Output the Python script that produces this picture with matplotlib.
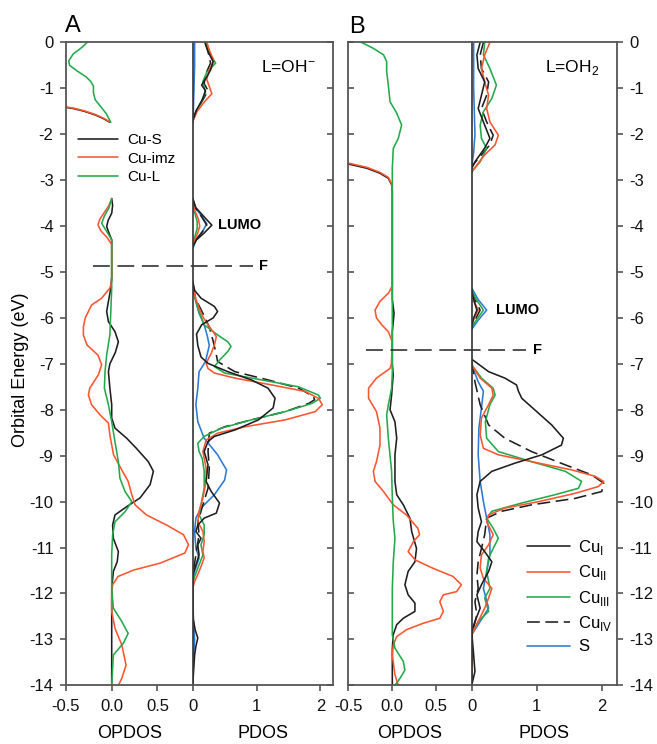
import numpy as np
import matplotlib
matplotlib.use('Agg')
import matplotlib.pyplot as plt

plt.rcParams['font.family'] = ['Liberation Sans', 'DejaVu Sans']
plt.rcParams['axes.unicode_minus'] = False
plt.rcParams['mathtext.fontset'] = 'custom'
plt.rcParams['mathtext.rm'] = 'Liberation Sans'

nan = np.nan

# ---------------- Panel A : OPDOS (Cu-S, Cu-imz, Cu-L) ----------------
A_opdos_CuS_E = [-1.41, -1.44, -1.50, -1.58, -1.66, -1.74, nan,
                 -3.40, -3.55, -3.72, -3.88, -4.01, -4.15, -4.30, -4.5, -4.8, -5.1, -5.35,
                 -5.64, -5.86, -6.08, -6.30, -6.52, -6.75, -7.0, -7.17, -7.53, -7.89, -8.18,
                 -8.4, -8.62, -8.84, -9.13, -9.34, -9.63, -9.92, -10.11, -10.29, -10.51,
                 -10.8, -11.09, -11.31, -11.52, -11.89, -12.6, -14.0]
A_opdos_CuS_x = [-0.52, -0.42, -0.30, -0.18, -0.09, -0.02, nan,
                 0.0, 0.01, 0.0, -0.04, -0.055, -0.03, 0.0, 0.0, 0.0, 0.0, -0.01,
                 -0.036, -0.055, -0.036, 0.036, 0.073, 0.04, -0.02, -0.036, -0.02, 0.0, 0.0,
                 0.036, 0.164, 0.27, 0.40, 0.456, 0.42, 0.31, 0.164, 0.036, 0.01,
                 0.018, 0.073, 0.06, 0.018, 0.0, 0.0, 0.0]

A_opdos_Cuimz_E = [-1.40, -1.43, -1.49, -1.57, -1.65, -1.73, nan,
                   -3.40, -3.55, -3.70, -3.85, -3.97, -4.10, -4.25, -4.40, -4.8, -5.2, -5.35,
                   -5.57, -5.72, -6.0, -6.2, -6.37, -6.59, -6.81, -7.02, -7.24, -7.53, -7.68,
                   -7.89, -8.11, -8.29, -8.55, -8.98, -9.31, -9.56, -9.85, -10.07, -10.29,
                   -10.51, -10.72, -10.94, -11.12, -11.34, -11.49, -11.63, -11.81, -12.03,
                   -12.39, -12.76, -13.12, -13.56, -13.85, -14.0]
A_opdos_Cuimz_x = [-0.52, -0.42, -0.30, -0.18, -0.09, -0.02, nan,
                   0.0, -0.03, -0.08, -0.13, -0.15, -0.12, -0.05, 0.0, 0.0, 0.0, -0.02,
                   -0.11, -0.22, -0.29, -0.31, -0.31, -0.27, -0.15, -0.11, -0.146, -0.24, -0.255,
                   -0.22, -0.128, -0.036, -0.02, 0.02, 0.11, 0.18, 0.22, 0.255, 0.38,
                   0.6, 0.785, 0.84, 0.80, 0.53, 0.24, 0.07, 0.01, 0.0,
                   0.0, 0.036, 0.11, 0.157, 0.11, 0.073]

A_opdos_CuL_E = [0.0, -0.1, -0.25, -0.4, -0.5, -0.62, -0.75, -0.85, -0.95, -1.1, -1.25,
                 -1.4, -1.55, -1.74, nan,
                 -3.40, -3.6, -3.78, -3.94, -4.1, -4.3, -4.5, -5.35, -6.37, -6.81, -7.17,
                 -7.53, -7.89, -8.26, -8.7, -9.13, -9.49, -9.78, -10.0, -10.22, -10.44,
                 -10.72, -11.16, -11.89, -12.32, -12.61, -12.87, -13.08, -13.34, -14.0]
A_opdos_CuL_x = [-0.27, -0.32, -0.42, -0.47, -0.46, -0.38, -0.28, -0.23, -0.2, -0.2, -0.18,
                 -0.12, -0.06, -0.01, nan,
                 0.0, -0.03, -0.08, -0.11, -0.06, 0.0, 0.0, 0.0, -0.02, -0.055, -0.073,
                 -0.08, -0.036, 0.0, 0.036, 0.073, 0.09, 0.146, 0.22, 0.146, 0.036,
                 0.01, 0.0, 0.0, 0.018, 0.11, 0.18, 0.128, 0.018, 0.0]

# ---------------- Panel A : PDOS (CuI..CuIV, S) ----------------
A_pdos_Cu1_E = [0, -0.2, -0.42, -0.6, -0.75, -0.93, -1.05, -1.25, -1.47, -1.7, nan,
                -3.4, -3.6, -3.8, -3.98, -4.15, -4.3, -4.45, nan,
                -5.2, -5.4, -5.57, -5.75, -5.86, -6.0, -6.15, -6.35, -6.6, -6.85, -6.99,
                -7.17, -7.35, -7.53, -7.75, -7.96, -8.22, -8.44, -8.58, -8.69, -8.91,
                -9.2, -9.56, -9.78, -10.03, -10.25, -10.36, -10.51, -10.65, -10.8,
                -10.94, -11.16, -11.38, -11.6, -12.5, -12.8, -12.97, -13.15, -13.34, -14.0]
A_pdos_Cu1_x = [0.19, 0.24, 0.32, 0.28, 0.22, 0.14, 0.2, 0.15, 0.06, 0.0, nan,
                0.0, 0.05, 0.18, 0.30, 0.18, 0.06, 0.0, nan,
                0.0, 0.03, 0.13, 0.34, 0.39, 0.32, 0.14, 0.06, 0.08, 0.13, 0.24,
                0.55, 0.92, 1.18, 1.29, 1.26, 1.03, 0.66, 0.34, 0.24, 0.18,
                0.24, 0.21, 0.29, 0.42, 0.37, 0.18, 0.08, 0.05, 0.13,
                0.08, 0.1, 0.05, 0.0, 0.0, 0.04, 0.08, 0.05, 0.03, 0.0]

A_pdos_Cu2_E = [0, -0.2, -0.4, -0.6, -0.8, -1.0, -1.12, -1.3, -1.5, -1.72, nan,
                -3.45, -3.65, -3.85, -4.0, -4.15, -4.3, -4.45, nan,
                -5.3, -5.55, -5.79, -6.0, -6.15, -6.3, -6.41, -6.59, -6.77, -6.99, -7.1,
                -7.2, -7.31, -7.46, -7.6, -7.75, -7.89, -8.04, -8.22, -8.37, -8.51, -8.66,
                -8.91, -9.27, -9.56, -9.92, -10.21, -10.44, -10.65, -10.87, -11.09,
                -11.23, -11.52, -11.74, -11.89, -14.0]
A_pdos_Cu2_x = [0.22, 0.27, 0.33, 0.26, 0.22, 0.27, 0.30, 0.18, 0.07, 0.0, nan,
                0.0, 0.03, 0.09, 0.11, 0.08, 0.03, 0.0, nan,
                0.0, 0.04, 0.1, 0.17, 0.24, 0.32, 0.37, 0.34, 0.29, 0.21, 0.24,
                0.34, 0.66, 1.24, 1.76, 1.97, 2.03, 1.92, 1.45, 0.82, 0.39, 0.21,
                0.16, 0.21, 0.21, 0.16, 0.1, 0.08, 0.16, 0.18, 0.16,
                0.18, 0.1, 0.03, 0.0, 0.0]

A_pdos_Cu3_E = [0, -0.25, -0.45, -0.65, -0.85, -1.1, -1.3, -1.5, -1.72, nan,
                -3.45, -3.7, -3.9, -4.05, -4.25, -4.45, nan,
                -5.35, -5.79, -6.15, -6.37, -6.52, -6.62, -6.73, -6.92, -7.06, -7.2, -7.35,
                -7.5, -7.68, -7.75, -7.86, -8.04, -8.22, -8.4, -8.58, -8.73, -8.91, -9.06,
                -9.34, -9.71, -10.07, -10.29, -10.51, -10.72, -10.94, -11.16, -11.45,
                -11.74, -14.0]
A_pdos_Cu3_x = [0.22, 0.27, 0.36, 0.22, 0.16, 0.2, 0.13, 0.06, 0.0, nan,
                0.0, 0.03, 0.07, 0.07, 0.03, 0.0, nan,
                0.0, 0.08, 0.18, 0.39, 0.55, 0.6, 0.55, 0.42, 0.34, 0.5, 1.08,
                1.66, 1.97, 2.0, 1.87, 1.45, 0.92, 0.45, 0.18, 0.08, 0.1, 0.15,
                0.18, 0.18, 0.13, 0.1, 0.18, 0.18, 0.13, 0.16, 0.08,
                0.0, 0.0]

A_pdos_Cu4_E = [0, -0.2, -0.45, -0.7, -0.9, -1.05, -1.25, -1.5, -1.72, nan,
                -3.4, -3.6, -3.8, -3.98, -4.15, -4.3, -4.45, nan,
                -5.3, -5.6, -5.9, -6.2, -6.5, -6.8, -6.95, -7.17, -7.35, -7.53, -7.71,
                -7.78, -7.86, -8.04, -8.22, -8.37, -8.51, -8.91, -9.27, -9.71, -10.07,
                -10.44, -10.72, -11.16, -11.6, -14.0]
A_pdos_Cu4_x = [0.2, 0.24, 0.28, 0.2, 0.18, 0.24, 0.16, 0.05, 0.0, nan,
                0.0, 0.04, 0.14, 0.22, 0.14, 0.05, 0.0, nan,
                0.0, 0.05, 0.16, 0.26, 0.32, 0.37, 0.39, 0.66, 1.18, 1.66, 1.89,
                1.91, 1.82, 1.45, 0.92, 0.5, 0.26, 0.24, 0.26, 0.24, 0.16,
                0.08, 0.1, 0.05, 0.0, 0.0]

A_pdos_S_E = [0, -0.5, -1.0, -1.5, -1.75, nan,
              -3.4, -3.6, -3.8, -3.95, -4.1, -4.3, -4.5, nan,
              -5.2, -5.6, -5.9, -6.15, -6.4, -6.6, -6.95, -7.17, -7.53, -7.89, -8.26,
              -8.62, -8.98, -9.31, -9.53, -9.85, -10.14, -10.36, -10.65, -11.01, -11.23,
              -11.52, -11.89, -12.5, -13.0, -13.5, -14.0]
A_pdos_S_x = [0.03, 0.03, 0.02, 0.01, 0.0, nan,
              0.0, 0.04, 0.15, 0.22, 0.16, 0.05, 0.0, nan,
              0.0, 0.04, 0.1, 0.18, 0.23, 0.26, 0.2, 0.1, 0.08, 0.05, 0.08,
              0.18, 0.39, 0.53, 0.5, 0.34, 0.13, 0.05, 0.03, 0.05, 0.1,
              0.03, 0.0, 0.01, 0.03, 0.01, 0.0]

# ---------------- Panel B : OPDOS ----------------
B_opdos_CuS_E = [-2.64, -2.67, -2.74, -2.85, -2.96, -3.1, -3.25, -5.6, -5.75, -5.9, -6.1,
                 -6.3, -7.0, -7.24, -7.68, -8.0, -8.26, -8.62, -8.98, -9.56, -9.85, -10.07,
                 -10.36, -10.65, -11.02, -11.31, -11.52, -11.81, -12.03, -12.21, -12.39,
                 -12.54, -12.68, -12.9, -13.2, -14.0]
B_opdos_CuS_x = [-0.52, -0.45, -0.29, -0.14, -0.045, -0.008, 0.0, 0.0, 0.01, 0.02, 0.01,
                 0.0, 0.0, 0.01, -0.008, -0.026, 0.03, 0.05, 0.03, 0.03, 0.05, 0.125,
                 0.2, 0.22, 0.275, 0.257, 0.18, 0.143, 0.18, 0.257, 0.257,
                 0.125, 0.05, 0.01, 0.0, 0.0]

B_opdos_Cuimz_E = [-2.62, -2.65, -2.72, -2.83, -2.94, -3.08, -3.22, -5.3, -5.45, -5.64,
                   -5.83, -6.0, -6.15, -6.3, -6.52, -7.0, -7.1, -7.31, -7.53, -7.75, -8.04,
                   -8.4, -8.77, -9.13, -9.34, -9.56, -9.78, -10.07, -10.29, -10.58, -10.72,
                   -10.87, -11.09, -11.27, -11.45, -11.63, -11.81, -11.96, -12.03, -12.18,
                   -12.39, -12.54, -12.65, -12.79, -12.94, -13.12, -13.34, -13.77, -14.0]
B_opdos_Cuimz_x = [-0.52, -0.45, -0.29, -0.14, -0.045, -0.008, 0.0, 0.0, -0.04, -0.14,
                   -0.196, -0.18, -0.12, -0.045, 0.0, -0.01, -0.026, -0.18, -0.27, -0.27, -0.18,
                   -0.14, -0.14, -0.18, -0.215, -0.196, -0.10, 0.011, 0.16, 0.29, 0.31,
                   0.24, 0.18, 0.26, 0.46, 0.69, 0.785, 0.73, 0.58, 0.54,
                   0.58, 0.54, 0.35, 0.16, 0.05, 0.011, 0.0, 0.03, 0.068]

B_opdos_CuL_E = [0.0, -0.13, -0.27, -0.42, -0.64, -0.93, -1.29, -1.54, -1.8, -2.09, -2.31,
                 -2.74, -7.2, -7.53, -7.89, -8.11, -8.62, -9.34, -9.9, -10.4, -10.8,
                 -11.31, -11.9, -12.9, -13.19, -13.48, -13.67, -13.85, -14.0]
B_opdos_CuL_x = [-0.35, -0.215, -0.10, -0.064, -0.064, -0.045, -0.026, 0.05, 0.106, 0.068,
                 0.011, 0.0, 0.0, -0.008, -0.045, -0.064, -0.045, -0.008, 0.0, 0.01, 0.03,
                 0.011, 0.0, 0.0, 0.03, 0.125, 0.143, 0.087, 0.03]

# ---------------- Panel B : PDOS ----------------
B_pdos_Cu1_E = [0, -0.27, -0.57, -0.86, -1.15, -1.44, -1.73, -2.09, -2.3, -2.6, -2.75, nan,
                -5.4, -5.6, -5.83, -6.0, -6.2, nan,
                -6.9, -6.95, -7.17, -7.31, -7.46, -7.6, -7.75, -8.04, -8.33, -8.62, -8.77,
                -8.98, -9.16, -9.34, -9.56, -9.85, -10.14, -10.44, -10.65, -10.87, -11.09,
                -11.31, -11.52, -11.81, -12.03, -12.32, -12.61, -12.83, -13.34, -13.7, -14.0]
B_pdos_Cu1_x = [0.13, 0.08, 0.1, 0.2, 0.15, 0.1, 0.18, 0.28, 0.2, 0.05, 0.0, nan,
                0.0, 0.03, 0.08, 0.03, 0.0, nan,
                0.0, 0.05, 0.26, 0.51, 0.69, 0.72, 0.77, 1.0, 1.23, 1.41, 1.38,
                1.08, 0.67, 0.31, 0.13, 0.08, 0.1, 0.15, 0.1, 0.08, 0.2,
                0.31, 0.26, 0.15, 0.08, 0.13, 0.05, 0.0, 0.03, 0.05, 0.0]

B_pdos_Cu2_E = [0, -0.27, -0.57, -0.86, -1.15, -1.44, -1.73, -2.02, -2.23, -2.45, -2.63,
                -2.82, nan,
                -5.45, -5.65, -5.83, -6.0, -6.15, nan,
                -7.02, -7.31, -7.53, -7.68, -7.89, -8.18, -8.55, -8.84, -8.98, -9.13, -9.31,
                -9.45, -9.56, -9.67, -9.82, -10.0, -10.14, -10.29, -10.44, -10.72, -10.94,
                -11.16, -11.45, -11.67, -11.89, -12.1, -12.32, -12.61, -12.9, -14.0]
B_pdos_Cu2_x = [0.28, 0.2, 0.15, 0.2, 0.26, 0.23, 0.28, 0.41, 0.36, 0.2, 0.1,
                0.0, nan,
                0.0, 0.04, 0.1, 0.04, 0.0, nan,
                0.0, 0.13, 0.31, 0.33, 0.26, 0.15, 0.13, 0.18, 0.41, 0.92, 1.54,
                1.9, 2.03, 1.95, 1.59, 1.03, 0.51, 0.26, 0.23, 0.33, 0.26,
                0.15, 0.13, 0.18, 0.31, 0.26, 0.2, 0.1, 0.0, 0.0]

B_pdos_Cu3_E = [0, -0.27, -0.57, -0.93, -1.22, -1.51, -1.8, -2.09, -2.31, -2.6, -2.82, nan,
                -5.4, -5.6, -5.83, -6.05, -6.2, nan,
                -7.02, -7.31, -7.53, -7.68, -7.89, -8.26, -8.62, -8.91, -9.13, -9.34, -9.56,
                -9.71, -9.85, -10.03, -10.21, -10.36, -10.58, -10.8, -11.02, -11.23,
                -11.52, -11.89, -12.1, -12.39, -12.61, -12.9, -14.0]
B_pdos_Cu3_x = [0.2, 0.18, 0.28, 0.38, 0.31, 0.18, 0.13, 0.15, 0.23, 0.13, 0.0, nan,
                0.0, 0.07, 0.18, 0.07, 0.0, nan,
                0.0, 0.15, 0.33, 0.36, 0.28, 0.21, 0.23, 0.41, 0.92, 1.44, 1.69,
                1.64, 1.28, 0.77, 0.31, 0.23, 0.33, 0.41, 0.33, 0.26,
                0.23, 0.28, 0.2, 0.26, 0.1, 0.0, 0.0]

B_pdos_Cu4_E = [0, -0.27, -0.57, -0.86, -1.15, -1.44, -1.73, -2.02, -2.23, -2.45, -2.7, nan,
                -5.4, -5.6, -5.83, -6.05, -6.2, nan,
                -6.95, -7.39, -7.89, -8.33, -8.62, -8.91, -9.2, -9.42, -9.6, -9.78, -9.93,
                -10.07, -10.21, -10.36, -10.72, -11.02, -11.31, -11.6, -11.89, -12.18,
                -12.47, -12.9, -14.0]
B_pdos_Cu4_x = [0.18, 0.13, 0.15, 0.26, 0.23, 0.15, 0.23, 0.33, 0.28, 0.15, 0.0, nan,
                0.0, 0.05, 0.13, 0.05, 0.0, nan,
                0.0, 0.05, 0.13, 0.26, 0.51, 0.92, 1.44, 1.85, 2.03, 2.0, 1.59,
                0.92, 0.46, 0.23, 0.2, 0.15, 0.1, 0.08, 0.1, 0.05,
                0.08, 0.0, 0.0]

B_pdos_S_E = [0, -1.0, -2.0, -2.4, -2.7, nan,
              -5.35, -5.6, -5.83, -6.05, -6.25, nan,
              -7.02, -7.39, -7.6, -7.96, -8.4, -8.98, -9.56, -10.0, -10.36, -10.72, -11.16,
              -11.52, -11.89, -12.32, -12.61, -12.9, -14.0]
B_pdos_S_x = [0.03, 0.03, 0.05, 0.03, 0.0, nan,
              0.0, 0.1, 0.23, 0.1, 0.0, nan,
              0.0, 0.1, 0.18, 0.15, 0.11, 0.1, 0.13, 0.18, 0.23, 0.28, 0.28,
              0.23, 0.18, 0.26, 0.13, 0.0, 0.0]

# annotations
yticks = list(range(0, -15, -1))
opdos_ticks = [-0.5, 0.0, 0.5]
opdos_ticklabels = ['-0.5', '0.0', '0.5']
pdos_ticks = [0, 1, 2]
fermi_A = -4.88
fermi_B = -6.7
lumo_A = -3.98
lumo_B = -5.83
opdos_names = ['Cu-S', 'Cu-imz', 'Cu-L']
pdos_names = ['Cu$_\\mathregular{I}$', 'Cu$_\\mathregular{II}$', 'Cu$_\\mathregular{III}$',
              'Cu$_\\mathregular{IV}$', 'S']

BLACK = '#1e1e1e'
RED = '#fb5530'
GREEN = '#23a94c'
BLUE = '#2c79d2'
SPINE = '#555555'
LW = 1.15
DASH = (8, 3.5)

W, H = 657, 744
fig = plt.figure(figsize=(W / 100, H / 100), dpi=100)

def fr(x0, x1):
    return [x0 / W, (H - 685.3) / H, (x1 - x0) / W, (685.3 - 42.4) / H]

axA1 = fig.add_axes(fr(66.0, 192.7))
axA2 = fig.add_axes(fr(192.7, 332.5))
axB1 = fig.add_axes(fr(348.3, 471.7))
axB2 = fig.add_axes(fr(471.7, 616.7))

axA1.set_xlim(-0.5, 0.886)
axA2.set_xlim(0, 2.19)
axB1.set_xlim(-0.5, 0.902)
axB2.set_xlim(0, 2.23)

for ax in (axA1, axA2, axB1, axB2):
    ax.set_ylim(-14, 0)
    ax.set_facecolor('none')
    for s in ax.spines.values():
        s.set_color(SPINE)
        s.set_linewidth(1.3)
    ax.tick_params(colors=SPINE, labelcolor='#111111', labelsize=12, width=1.2, length=4)
    ax.set_yticks(yticks)

# OPDOS axes
for ax in (axA1, axB1):
    ax.spines['right'].set_visible(False)
    ax.set_xticks(opdos_ticks)
    ax.set_xticklabels(opdos_ticklabels)
# PDOS axes
for ax in (axA2, axB2):
    ax.set_xticks(pdos_ticks)
    ax.spines['left'].set_color('#333333')
    ax.spines['left'].set_linewidth(1.2)

axA1.tick_params(axis='y', direction='out', left=True, labelleft=True, pad=5)
axA2.tick_params(axis='y', left=False, labelleft=False, right=True, direction='in')
axB1.tick_params(axis='y', left=True, labelleft=False, direction='in')
axB2.tick_params(axis='y', left=False, labelleft=False, right=True, labelright=True,
                 direction='out', pad=5)
for ax in (axA1, axA2, axB1, axB2):
    ax.tick_params(axis='x', direction='out', pad=6)

# curves
def draw(ax, E, x, color, dashes=None, label=None):
    line, = ax.plot(x, E, color=color, lw=LW, label=label,
                    solid_joinstyle='round', solid_capstyle='round')
    if dashes is not None:
        line.set_dashes(dashes)
    return line

hA = [draw(axA1, A_opdos_CuS_E, A_opdos_CuS_x, BLACK, label=opdos_names[0]),
      draw(axA1, A_opdos_Cuimz_E, A_opdos_Cuimz_x, RED, label=opdos_names[1]),
      draw(axA1, A_opdos_CuL_E, A_opdos_CuL_x, GREEN, label=opdos_names[2])]

draw(axB1, B_opdos_CuS_E, B_opdos_CuS_x, BLACK)
draw(axB1, B_opdos_Cuimz_E, B_opdos_Cuimz_x, RED)
draw(axB1, B_opdos_CuL_E, B_opdos_CuL_x, GREEN)

draw(axA2, A_pdos_S_E, A_pdos_S_x, BLUE)
draw(axA2, A_pdos_Cu4_E, A_pdos_Cu4_x, BLACK, dashes=DASH)
draw(axA2, A_pdos_Cu3_E, A_pdos_Cu3_x, GREEN)
draw(axA2, A_pdos_Cu2_E, A_pdos_Cu2_x, RED)
draw(axA2, A_pdos_Cu1_E, A_pdos_Cu1_x, BLACK)

hB_S = draw(axB2, B_pdos_S_E, B_pdos_S_x, BLUE, label=pdos_names[4])
hB_4 = draw(axB2, B_pdos_Cu4_E, B_pdos_Cu4_x, BLACK, dashes=DASH, label=pdos_names[3])
hB_3 = draw(axB2, B_pdos_Cu3_E, B_pdos_Cu3_x, GREEN, label=pdos_names[2])
hB_2 = draw(axB2, B_pdos_Cu2_E, B_pdos_Cu2_x, RED, label=pdos_names[1])
hB_1 = draw(axB2, B_pdos_Cu1_E, B_pdos_Cu1_x, BLACK, label=pdos_names[0])

# Fermi level dashed lines spanning OPDOS and PDOS parts
def fermi(ax_o, ax_p, E, x_start, x_end):
    p_end = ax_p.transData.transform((x_end, E))
    x_end_o = ax_o.transData.inverted().transform(p_end)[0]
    ln, = ax_o.plot([x_start, x_end_o], [E, E], color='#222222', lw=1.1, clip_on=False)
    ln.set_dashes((11, 5))
    ax_p.text(x_end + 0.1, E, 'F', fontsize=10.5, fontweight='bold', va='center', ha='left')

fermi(axA1, axA2, fermi_A, -0.2, 0.94)
fermi(axB1, axB2, fermi_B, -0.3, 0.84)

axA2.text(0.40, lumo_A, 'LUMO', fontsize=10.5, fontweight='bold', va='center', ha='left')
axB2.text(0.38, lumo_B, 'LUMO', fontsize=10.5, fontweight='bold', va='center', ha='left')

axA2.text(0.49, 0.954, 'L=OH$^{\\mathregular{-}}$', transform=axA2.transAxes, fontsize=12.5,
          ha='left', va='baseline')
axB2.text(0.505, 0.954, 'L=OH$_\\mathregular{2}$', transform=axB2.transAxes, fontsize=12.5,
          ha='left', va='baseline')

fig.text(65 / W, 1 - 32 / H, 'A', fontsize=17, ha='left', va='baseline')
fig.text(349 / W, 1 - 33 / H, 'B', fontsize=17, ha='left', va='baseline')

fig.text(20.7 / W, 1 - 370 / H, 'Orbital Energy (eV)', rotation=90, fontsize=13,
         ha='center', va='center')
for ax, lab in ((axA1, 'OPDOS'), (axA2, 'PDOS'), (axB1, 'OPDOS'), (axB2, 'PDOS')):
    pos = ax.get_position()
    fig.text((pos.x0 + pos.x1) / 2, 1 - 733 / H, lab, fontsize=13, ha='center', va='center')

legA = axA1.legend(handles=hA, loc='upper left', bbox_to_anchor=(78 / W, 1 - 133 / H),
                   bbox_transform=fig.transFigure, frameon=False, fontsize=11,
                   handlelength=2.6, handletextpad=0.6, labelspacing=0.3,
                   borderpad=0, borderaxespad=0)
legB = axB2.legend(handles=[hB_1, hB_2, hB_3, hB_4, hB_S], loc='upper left',
                   bbox_to_anchor=(527 / W, 1 - 538 / H), bbox_transform=fig.transFigure,
                   frameon=False, fontsize=12, handlelength=2.6, handletextpad=0.45,
                   labelspacing=0.38, borderpad=0, borderaxespad=0)

fig.savefig('out.png', dpi=100)
